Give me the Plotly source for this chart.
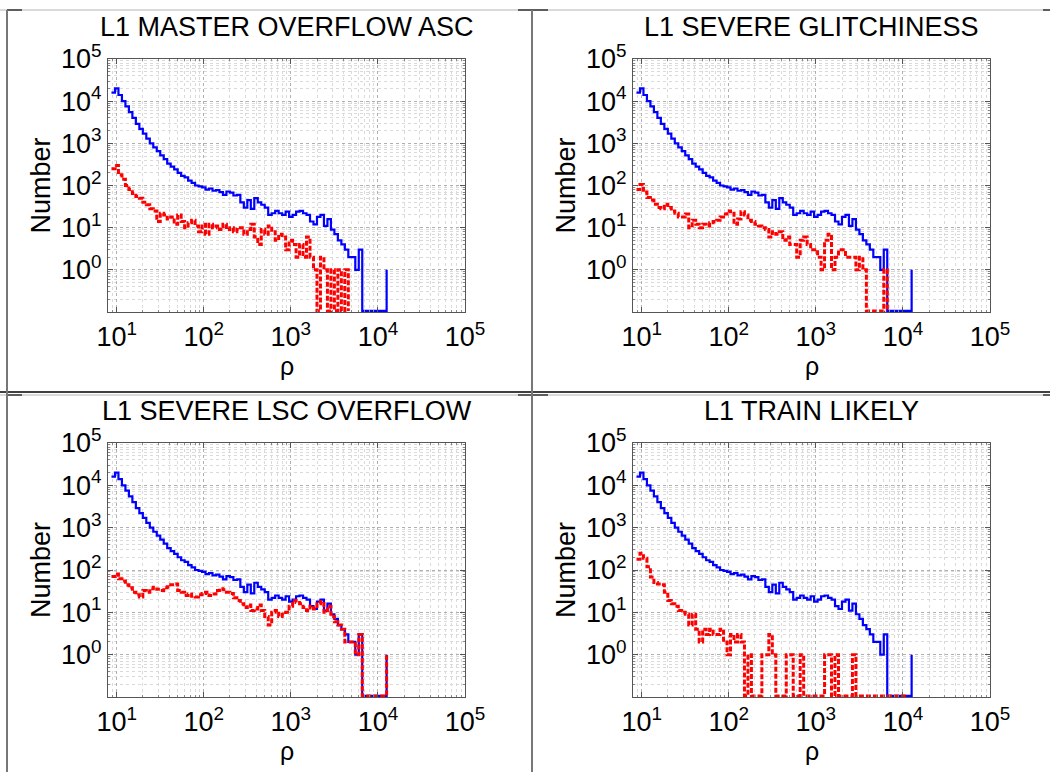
import numpy as np
import plotly.graph_objects as go

# ---------------- data ----------------
# histogram bins: left edges in log10(rho), regular log grid
bin_left_log10 = np.round(0.94 + 0.04 * np.arange(80), 2)

titles = ["L1 MASTER OVERFLOW ASC", "L1 SEVERE GLITCHINESS",
          "L1 SEVERE LSC OVERFLOW", "L1 TRAIN LIKELY"]

# all triggers (blue, identical in every panel)
all_counts = [16000, 20000, 14000, 10000, 7500, 5500, 4000, 2900, 2200, 1700,
              1300, 1000, 800, 650, 520, 420, 330, 280, 240, 200,
              170, 155, 130, 115, 100, 95, 90, 80, 85, 75,
              78, 70, 60, 72, 68, 58, 60, 40, 30, 45,
              28, 50, 40, 35, 30, 20, 22, 25, 22, 20,
              24, 18, 20, 24, 25, 22, 20, 14, 12, 18,
              20, 11, 16, 9, 7, 5, 4, 3, 2, 2,
              1, 3, 0, 0, 0, 0, 0, 0, 0, 1]

# vetoed triggers (red dashed), one per panel
veto_master_overflow = [250, 300, 180, 140, 100, 80, 65, 55, 50, 40,
                        35, 28, 25, 14, 22, 20, 16, 18, 12, 20,
                        14, 10, 13, 15, 11, 8, 12, 7, 12, 10,
                        11, 9, 12, 9, 10, 8, 9, 10, 7, 9,
                        12, 6, 4, 9, 7, 11, 8, 5, 7, 6,
                        3, 5, 4, 2, 4, 2, 6, 2, 1, 0,
                        2, 1, 0, 1, 0, 1, 0, 1, 0]
veto_glitchiness = [80, 105, 70, 52, 45, 36, 30, 28, 36, 30,
                    25, 22, 18, 18, 21, 10, 15, 12, 10, 12,
                    11, 13, 14, 15, 18, 21, 25, 22, 12, 16,
                    24, 20, 15, 14, 12, 11, 10, 9, 6, 8,
                    7, 8, 5, 6, 4, 4, 2, 5, 6, 4,
                    3, 3, 2, 1, 5, 7, 1, 2, 3, 3,
                    2, 2, 2, 1, 2, 1, 0, 0, 0, 0,
                    0, 1, 0]
veto_lsc_overflow = [70, 80, 62, 55, 45, 38, 30, 26, 23, 33,
                     30, 36, 39, 35, 33, 38, 40, 45, 47, 33,
                     30, 25, 27, 24, 23, 26, 28, 30, 25, 27,
                     33, 36, 34, 30, 28, 22, 19, 16, 13, 15,
                     11, 12, 15, 11, 8, 5, 10, 11, 8, 9,
                     10, 14, 19, 17, 16, 13, 11, 14, 12, 16,
                     18, 10, 14, 8, 6, 5, 4, 2, 2, 2,
                     1, 3, 0, 0, 0, 0, 0, 0, 0, 1]
veto_train_likely = [180, 250, 190, 120, 68, 51, 47, 45, 30, 19,
                     16, 14, 11, 10, 9, 5, 9, 4, 2, 4,
                     3, 4, 3, 3, 4, 2, 1, 3, 2, 3,
                     2, 0, 1, 0, 0, 0, 1, 1, 3, 1,
                     0, 0, 0, 1, 1, 0, 0, 1, 0, 0,
                     0, 0, 0, 0, 1, 1, 0, 1, 0, 0,
                     0, 0, 1, 0, 0, 0, 0, 0, 0, 0,
                     0, 0, 0, 0, 0, 0, 0, 0, 0]
veto_sets = [veto_master_overflow, veto_glitchiness, veto_lsc_overflow, veto_train_likely]

x_tick_vals = [10, 100, 1000, 10000, 100000]
x_tick_text = ["10<sup>1</sup>", "10<sup>2</sup>", "10<sup>3</sup>", "10<sup>4</sup>", "10<sup>5</sup>"]
y_tick_vals = [1, 10, 100, 1000, 10000, 100000]
y_tick_text = ["10<sup>0</sup>", "10<sup>1</sup>", "10<sup>2</sup>", "10<sup>3</sup>",
               "10<sup>4</sup>", "10<sup>5</sup>"]

# ---------------- layout geometry (pixels) ----------------
W, H = 1050, 772
FONT = "Liberation Sans, Arial, Helvetica, sans-serif"
panels = [  # (left, right, top, bottom) of plot area in px
    (108, 465, 59, 312), (633, 990, 59, 312),
    (108, 465, 443, 697), (633, 990, 443, 697)]

FLOOR = 10 ** (-0.975)  # zero counts drawn on the bottom edge


def px(x):
    return x / W


def py(y):
    return 1 - y / H


fig = go.Figure()
minor_x = [m * 10.0 ** e for e in range(0, 5) for m in range(2, 10)]
minor_y = [m * 10.0 ** e for e in range(-1, 5) for m in range(2, 10)]

for i, (l, r, t, b) in enumerate(panels):
    n = i + 1
    xa = "x" if n == 1 else f"x{n}"
    ya = "y" if n == 1 else f"y{n}"
    rho = 10 ** bin_left_log10
    blue = [c if c > 0 else FLOOR for c in all_counts]
    fig.add_trace(go.Scatter(x=rho[:len(blue)], y=blue, mode="lines",
                             line=dict(color="#0000ff", width=2.2, shape="hv"),
                             xaxis=xa, yaxis=ya, showlegend=False))
    red = [c if c > 0 else FLOOR for c in veto_sets[i]]
    fig.add_trace(go.Scatter(x=rho[:len(red)], y=red, mode="lines",
                             line=dict(color="#ff0000", width=3, shape="hv", dash="5px,2px"),
                             xaxis=xa, yaxis=ya, showlegend=False))
    common = dict(showline=True, linecolor="#555555", linewidth=1, mirror="ticks",
                  ticks="inside", ticklen=5, tickcolor="#555555", automargin=False,
                  showgrid=True, gridcolor="#b0b0b0", griddash="dot", gridwidth=1,
                  zeroline=False, tickfont=dict(family=FONT, size=27, color="black"))
    fig.layout[("xaxis" if n == 1 else f"xaxis{n}")] = dict(
        type="log", range=[0.9, 5.0], domain=[px(l), px(r)], anchor=ya,
        tickmode="array", tickvals=x_tick_vals, ticktext=x_tick_text, ticklabelstandoff=1,
        minor=dict(tickmode="array", tickvals=minor_x, showgrid=True, gridcolor="#dadada",
                   griddash="dot", gridwidth=1, ticks="inside", ticklen=2, tickcolor="#888888"),
        **common)
    fig.layout[("yaxis" if n == 1 else f"yaxis{n}")] = dict(
        type="log", range=[-1, 5], domain=[py(b), py(t)], anchor=xa,
        tickmode="array", tickvals=y_tick_vals, ticktext=y_tick_text,
        minor=dict(tickmode="array", tickvals=minor_y, showgrid=True, gridcolor="#dadada",
                   griddash="dot", gridwidth=1, ticks="inside", ticklen=2, tickcolor="#888888"),
        **common)
    cx = (l + r) / 2
    fig.add_annotation(text=titles[i], x=px(cx), y=py(t - 32), xref="paper", yref="paper",
                       showarrow=False, xanchor="center", yanchor="middle",
                       font=dict(family=FONT, size=27, color="black"))
    fig.add_annotation(text="ρ", x=px(cx), y=py(b + 38), xref="paper", yref="paper",
                       showarrow=False, xanchor="center", yanchor="top",
                       font=dict(family=FONT, size=25, color="black"))
    fig.add_annotation(text="Number", x=px(l - 67), y=py((t + b) / 2), xref="paper", yref="paper",
                       showarrow=False, xanchor="center", yanchor="middle", textangle=-90,
                       font=dict(family=FONT, size=27, color="black"))

# panel frame lines
shapes = []
def line(x0, y0, x1, y1, color, width):
    shapes.append(dict(type="line", xref="paper", yref="paper", x0=px(x0), y0=py(y0),
                       x1=px(x1), y1=py(y1), line=dict(color=color, width=width)))

for ytop in (10, 395):
    line(0, ytop, W, ytop, "#b4b4b4", 1)
    line(7, ytop, 22, ytop, "#333333", 1.5)
    line(518, ytop, 548, ytop, "#333333", 1.5)
    line(1043, ytop, W, ytop, "#333333", 1.5)
line(0, 392, W, 392, "#000000", 1.5)
line(7, 10, 7, H, "#777777", 2)
line(532, 10, 532, H, "#777777", 2)

fig.update_layout(width=W, height=H, margin=dict(l=0, r=0, t=0, b=0, autoexpand=False),
                  paper_bgcolor="white", plot_bgcolor="white", shapes=shapes,
                  font=dict(family=FONT))
fig.write_html("out.html")
